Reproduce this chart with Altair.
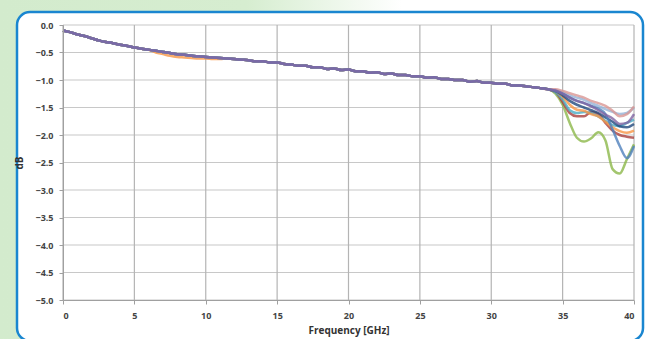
import altair as alt
import pandas as pd

# ---- data -------------------------------------------------------------
# shared trace (all series overlap) 0 .. 34 GHz, 0.5 GHz step
base_freq = [i * 0.5 for i in range(69)]
base_db = [
    -0.10, -0.13, -0.17, -0.20, -0.24, -0.28, -0.31, -0.33, -0.36, -0.38,
    -0.41, -0.43, -0.45, -0.47, -0.49, -0.51, -0.53, -0.54, -0.56, -0.57,
    -0.58, -0.59, -0.60, -0.61, -0.62, -0.63, -0.64, -0.66, -0.66, -0.68,
    -0.68, -0.71, -0.72, -0.74, -0.74, -0.77, -0.77, -0.80, -0.79, -0.82,
    -0.81, -0.84, -0.84, -0.87, -0.86, -0.89, -0.88, -0.91, -0.91, -0.93,
    -0.93, -0.96, -0.95, -0.98, -0.98, -1.00, -1.00, -1.03, -1.02, -1.05,
    -1.05, -1.07, -1.07, -1.10, -1.10, -1.12, -1.13, -1.15, -1.17,
]
# orange runs slightly lower between ~6 and ~12 GHz
orange_low = {6.5: -0.50, 7.0: -0.53, 7.5: -0.56, 8.0: -0.58, 8.5: -0.59,
              9.0: -0.60, 9.5: -0.61, 10.0: -0.61, 10.5: -0.62, 11.0: -0.62}

# divergent tails 34.5 .. 40 GHz
tail_freq = [34.5, 35.0, 35.5, 36.0, 36.5, 37.0, 37.5, 38.0, 38.5, 39.0, 39.5, 40.0]
tails = {
    "green":  [-1.25, -1.45, -1.78, -2.05, -2.12, -2.06, -1.95, -2.10, -2.62, -2.70, -2.44, -2.17],
    "red":    [-1.22, -1.40, -1.60, -1.66, -1.66, -1.58, -1.62, -1.78, -1.92, -2.00, -2.03, -2.05],
    "aqua":   [-1.22, -1.35, -1.55, -1.60, -1.58, -1.60, -1.66, -1.74, -1.82, -1.84, -1.78, -1.72],
    "orange": [-1.20, -1.30, -1.45, -1.54, -1.56, -1.62, -1.66, -1.76, -1.86, -1.93, -1.96, -1.92],
    "ltblue": [-1.18, -1.22, -1.28, -1.32, -1.36, -1.42, -1.47, -1.53, -1.58, -1.62, -1.60, -1.50],
    "navy":   [-1.20, -1.28, -1.38, -1.45, -1.50, -1.55, -1.60, -1.68, -1.76, -1.84, -1.86, -1.80],
    "pink":   [-1.17, -1.20, -1.24, -1.28, -1.32, -1.38, -1.42, -1.47, -1.56, -1.66, -1.62, -1.48],
    "blue":   [-1.20, -1.25, -1.32, -1.38, -1.42, -1.47, -1.52, -1.62, -1.90, -2.20, -2.42, -2.20],
    "purple": [-1.19, -1.25, -1.32, -1.38, -1.42, -1.48, -1.55, -1.63, -1.70, -1.80, -1.78, -1.62],
}
series_order = list(tails.keys())
colors = ["#8cb84a", "#a9403d", "#4bacc6", "#f79646", "#95b3d7",
          "#1f497d", "#d99694", "#4f81bd", "#8064a2"]

y_ticks = [0.0, -0.5, -1.0, -1.5, -2.0, -2.5, -3.0, -3.5, -4.0, -4.5, -5.0]
x_ticks = [0, 5, 10, 15, 20, 25, 30, 35, 40]

rows = []
for i, s in enumerate(series_order):
    for f, v in zip(base_freq, base_db):
        if s == "orange" and f in orange_low:
            v = orange_low[f]
        rows.append({"freq": f, "db": v, "series": s, "k": i})
    for f, v in zip(tail_freq, tails[s]):
        rows.append({"freq": f, "db": v, "series": s, "k": i})
df = pd.DataFrame(rows)

# ---- chart --------------------------------------------------------------
W, H = 571, 275
PL, PT, PR, PB = 63, 25, 15, 39

xs = alt.Scale(domain=[0, 40], nice=False)
ys = alt.Scale(domain=[-5, 0], nice=False)

x_axis = alt.Axis(values=x_ticks, grid=False, format="d", zindex=1,
                  domainColor="#a0a0a0", tickColor="#a0a0a0", tickSize=4,
                  labelPadding=7, titlePadding=5)
y_axis = alt.Axis(values=y_ticks, grid=False, format=".1f", zindex=1,
                  domainColor="#a0a0a0", tickColor="#a0a0a0", tickSize=4,
                  labelPadding=6, titlePadding=10)
X_TITLE = "Frequency [GHz]"
Y_TITLE = "dB"

bg = alt.Chart(pd.DataFrame({"a": [0]})).mark_rect(
    fill=alt.Gradient(
        gradient="linear", x1=0, x2=1, y1=0, y2=0,
        stops=[alt.GradientStop(color="#d3ebcd", offset=0),
               alt.GradientStop(color="#d6edd0", offset=0.38),
               alt.GradientStop(color="#ffffff", offset=0.62),
               alt.GradientStop(color="#ffffff", offset=1)]),
).encode(x=alt.value(-PL), x2=alt.value(W + PR), y=alt.value(-PT), y2=alt.value(H + PB))

frame = alt.Chart(pd.DataFrame({"a": [0]})).mark_rect(
    fill="white", stroke="#1a86d0", strokeWidth=2.5, cornerRadius=13,
).encode(x=alt.value(-46), x2=alt.value(580), y=alt.value(-13), y2=alt.value(316))

hgrid = alt.Chart(pd.DataFrame({"db": y_ticks})).mark_rule(
    color="#c8c8c8", strokeWidth=1.2
).encode(y=alt.Y("db:Q", scale=ys, axis=y_axis, title=Y_TITLE))

vgrid = alt.Chart(pd.DataFrame({"freq": x_ticks})).mark_rule(
    color="#b4b4b4", strokeWidth=1.2
).encode(x=alt.X("freq:Q", scale=xs, axis=x_axis, title=X_TITLE))

lines = alt.Chart(df).mark_line(strokeWidth=2.5, interpolate="monotone", opacity=0.8).encode(
    x=alt.X("freq:Q", scale=xs, axis=x_axis, title=X_TITLE),
    y=alt.Y("db:Q", scale=ys, axis=y_axis, title=Y_TITLE),
    color=alt.Color("series:N", scale=alt.Scale(domain=series_order, range=colors), legend=None),
    order=alt.Order("k:Q"),
    detail="series:N",
)

chart = alt.layer(bg, frame, hgrid, vgrid, lines).properties(
    width=W, height=H,
    autosize=alt.AutoSizeParams(type="none"),
    padding={"left": PL, "top": PT, "right": PR, "bottom": PB},
    background="white",
).configure_view(stroke=None).configure_axis(
    labelFont="Open Sans", labelFontSize=9, labelFontWeight="bold", labelColor="#444444",
    titleFont="Open Sans", titleFontSize=10, titleFontWeight="bold", titleColor="#333333",
)

chart.save("out.html", embed_options={"renderer": "svg", "actions": False})
